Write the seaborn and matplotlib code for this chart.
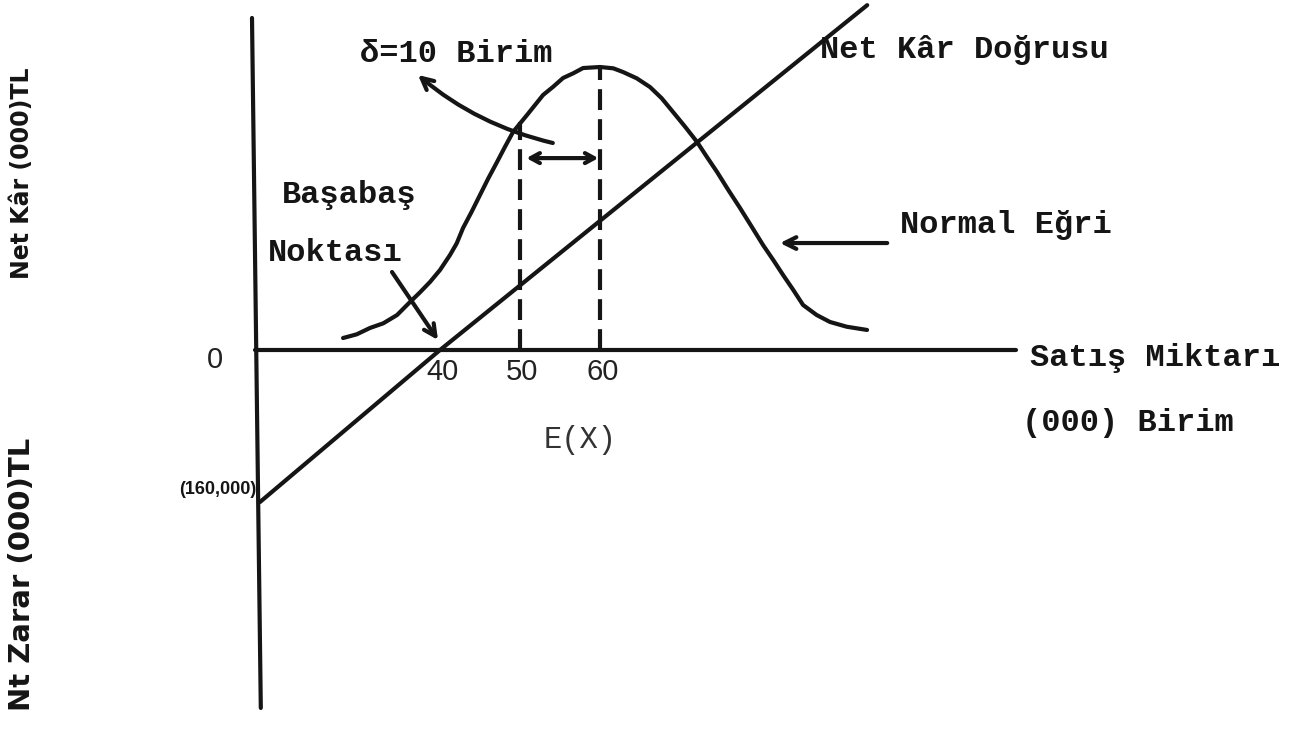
import matplotlib
matplotlib.use("Agg")
import matplotlib.pyplot as plt
import seaborn as sns

# Sales quantity in (000) units, profit in (000) TL
mean_sales = 60
sigma_point = 50
break_even = 40
fixed_loss = -160

# Hand-drawn normal curve of expected sales
curve_x = [27.88, 29.59, 31.25, 32.91, 34.63, 36.25, 37.5, 38.75, 40.0, 41.25,
           42.09, 42.88, 43.96, 45.0, 46.04, 47.13, 48.13, 49.13, 50.88, 51.88,
           52.88, 54.16, 55.38, 56.66, 57.88, 60.0, 61.66, 62.88, 64.59, 66.25,
           67.71, 69.13, 70.63, 72.13, 73.34, 74.63, 76.04, 77.5, 78.96, 80.38,
           81.66, 82.88, 84.16, 85.38, 87.09, 88.75, 90.84, 93.38]
curve_y = [12.6, 16.5, 23.2, 28.1, 36.8, 50.5, 60.7, 71.6, 84.2, 100.0,
           112.3, 128.4, 145.6, 163.2, 180.7, 197.9, 214.0, 229.5, 247.4, 257.9,
           268.4, 277.2, 286.3, 291.3, 296.8, 297.9, 296.5, 292.6, 286.0, 276.8,
           265.0, 250.5, 235.1, 219.0, 203.5, 187.4, 168.4, 149.5, 129.8, 110.5,
           94.7, 79.0, 63.2, 47.4, 36.8, 29.5, 24.5, 21.1]

# Net profit line: loss at the vertical axis, zero at break-even, top end
profit_x = [17.5, break_even, 93.4]
profit_y = [fixed_loss, 0, 363]

# Heights of the dashed guides (where they meet the curve)
guide_x = [sigma_point, mean_sales]
guide_top = [240, 298]

tick_values = [40, 50, 60]

sns.set_theme(style="white")
plt.rcParams["font.family"] = ["Liberation Mono", "DejaVu Sans"]

ink = "#151515"
lw = 3.0

fig = plt.figure(figsize=(13.09, 7.51), dpi=100)
ax = fig.add_axes([0, 0, 1, 1])
ax.set_xlim(-15, 148.625)
ax.set_ylim(-422.1, 368.42)
ax.axis("off")

# Hand-drawn axes: near-vertical profit axis and horizontal sales axis
sns.lineplot(x=[16.5, 17.6], y=[349.5, -376.8], color=ink, lw=lw, ax=ax,
             estimator=None, sort=False)
sns.lineplot(x=[16.9, 112.0], y=[0, 0], color=ink, lw=lw, ax=ax,
             estimator=None, sort=False)

# Normal curve
sns.lineplot(x=curve_x, y=curve_y, color=ink, lw=lw, ax=ax,
             estimator=None, sort=False)
# Net profit line
sns.lineplot(x=profit_x, y=profit_y, color=ink, lw=lw, ax=ax,
             estimator=None, sort=False)
for line in ax.lines:
    line.set_solid_capstyle("round")
    line.set_solid_joinstyle("round")

# Dashed verticals at the mean and one sigma below it
for gx, gt in zip(guide_x, guide_top):
    ax.plot([gx, gx], [0, gt], color=ink, lw=lw, ls=(0, (5, 2.2)))

# Tick labels on the sales axis
for tv in tick_values:
    ax.text(tv + 0.3, -23, str(tv), ha="center", va="center",
            fontsize=21, family="Liberation Sans", color="#222222")
ax.text(11.9, -10.5, "0", ha="center", va="center", fontsize=21,
        family="Liberation Sans", color="#222222")
ax.text(17.1, -147, "(160,000)", ha="right", va="center", fontsize=13,
        family="Liberation Sans", weight="bold", color=ink)
ax.text(57.5, -94.7, "E(X)", ha="center", va="center", fontsize=22,
        color="#333333")

# Annotations
tw = dict(fontsize=23, weight="bold", color=ink, va="center")
ax.text(42.0, 312, "δ=10 Birim", ha="center", **tw)
ax.text(87.5, 315.8, "Net Kâr Doğrusu", ha="left", **tw)
ax.text(20.25, 163.2, "Başabaş", ha="left", **tw)
ax.text(18.5, 102.1, "Noktası", ha="left", **tw)
ax.text(97.5, 131.6, "Normal Eğri", ha="left", **tw)
ax.text(113.75, -8.4, "Satış Miktarı", ha="left", **tw)
ax.text(112.75, -76.8, "(000) Birim", ha="left", **tw)

# Vertical axis titles
vt = dict(rotation=90, ha="center", va="center", weight="bold",
          family="DejaVu Sans", color=ink)
ax.text(-12.25, 186, "Net Kâr (000)TL", fontsize=17, **vt)
ax.text(-12.25, -236, "Nt Zarar (000)TL", fontsize=21, **vt)

# Arrows
arrow = dict(arrowstyle="->,head_length=0.7,head_width=0.35", color=ink,
             lw=3.0, shrinkA=0, shrinkB=0)
ax.annotate("", xy=(37.25, 289.5), xytext=(54.1, 217.9),
            arrowprops=dict(connectionstyle="arc3,rad=-0.12", **arrow))
ax.annotate("", xy=(39.75, 10.5), xytext=(34.0, 82.1), arrowprops=arrow)
ax.annotate("", xy=(82.5, 112.6), xytext=(95.9, 112.6), arrowprops=arrow)
ax.annotate("", xy=(59.8, 202), xytext=(50.8, 202),
            arrowprops=dict(arrowstyle="<->,head_length=0.55,head_width=0.3",
                            color=ink, lw=3.0, shrinkA=0, shrinkB=0))

fig.savefig("out.png", dpi=100, facecolor="white")
